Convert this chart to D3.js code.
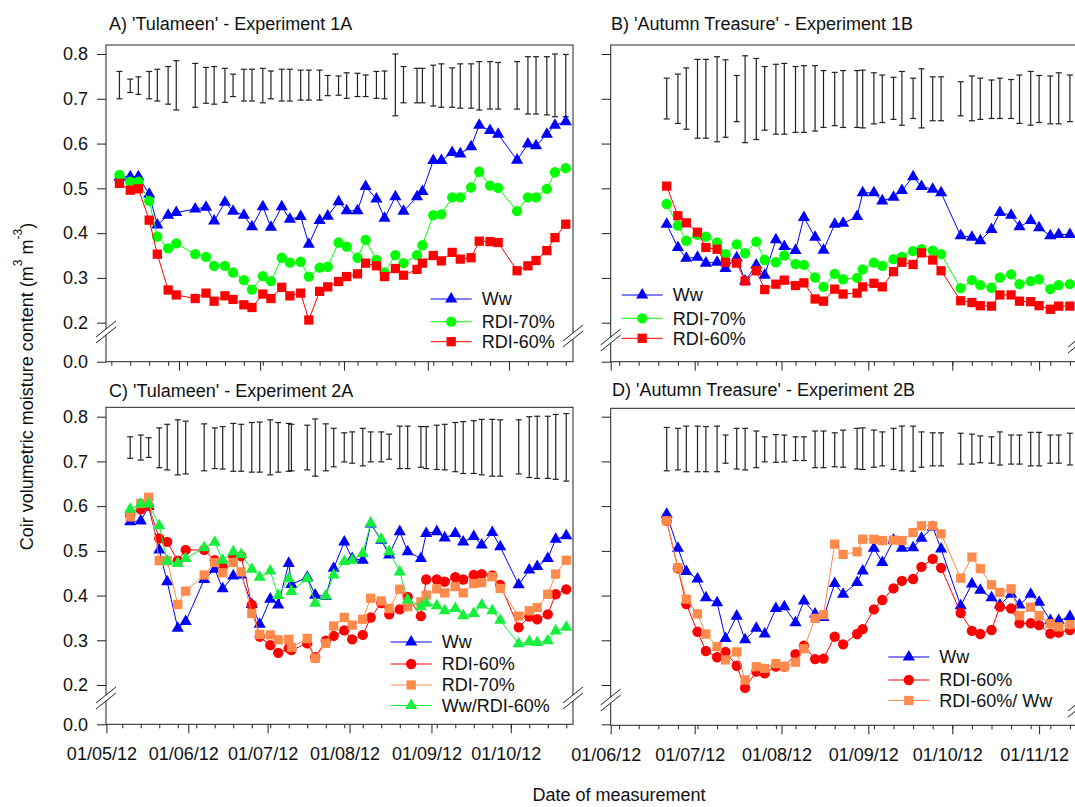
<!DOCTYPE html>
<html>
<head>
<meta charset="utf-8">
<script src="https://cdn.jsdelivr.net/npm/d3@7"></script>
<style>
  body { margin: 0; background: #fff; }
  svg { display: block; }
  text { font-family: "Liberation Sans", Arial, sans-serif; fill: #111; }
</style>
</head>
<body>
<svg id="chart" width="1075" height="807"></svg>
<script>
// Measurement dates (2012, "MM-DD")
const datesExp1A = ["05-10","05-14","05-17","05-21","05-24","05-28","05-31","06-07","06-11","06-14","06-18","06-21","06-25","06-28","07-02","07-05","07-09","07-12","07-16","07-19","07-23","07-26","07-30","08-02","08-06","08-09","08-13","08-16","08-20","08-23","08-28","08-30","09-03","09-06","09-10","09-13","09-17","09-20","09-24","09-27","10-04","10-08","10-11","10-15","10-18","10-22"];
const datesExp2A = ["05-10","05-14","05-17","05-21","05-24","05-28","05-31","06-07","06-11","06-14","06-18","06-21","06-25","06-28","07-02","07-05","07-09","07-10","07-16","07-19","07-23","07-26","07-30","08-02","08-06","08-09","08-13","08-16","08-20","08-23","08-28","08-30","09-03","09-06","09-10","09-13","09-17","09-20","09-24","09-27","10-04","10-08","10-11","10-15","10-18","10-22"];
const datesExpB = ["06-21","06-25","06-28","07-02","07-05","07-09","07-12","07-16","07-19","07-23","07-26","07-30","08-02","08-06","08-09","08-13","08-16","08-20","08-23","08-28","08-30","09-03","09-06","09-10","09-13","09-17","09-20","09-24","09-27","10-04","10-08","10-11","10-15","10-18","10-22","10-25","10-29","11-01","11-05","11-08","11-12"];

// A) Tulameen - Experiment 1A
const a_Ww     = [0.525,0.526,0.526,0.487,0.418,0.440,0.446,0.454,0.458,0.427,0.469,0.449,0.440,0.414,0.459,0.413,0.459,0.431,0.437,0.375,0.428,0.438,0.470,0.450,0.450,0.504,0.476,0.433,0.481,0.449,0.481,0.493,0.562,0.562,0.580,0.577,0.593,0.641,0.629,0.621,0.563,0.599,0.595,0.621,0.641,0.649];
const a_RDI70  = [0.530,0.515,0.515,0.472,0.392,0.366,0.377,0.353,0.347,0.327,0.327,0.312,0.295,0.274,0.304,0.293,0.345,0.334,0.336,0.303,0.323,0.325,0.379,0.370,0.345,0.385,0.340,0.312,0.351,0.333,0.351,0.373,0.440,0.442,0.480,0.480,0.502,0.537,0.506,0.501,0.449,0.480,0.480,0.499,0.536,0.545];
const a_RDI60  = [0.511,0.496,0.499,0.429,0.353,0.273,0.262,0.254,0.266,0.248,0.260,0.252,0.240,0.234,0.264,0.254,0.279,0.260,0.266,0.206,0.270,0.280,0.292,0.303,0.309,0.333,0.327,0.303,0.321,0.306,0.319,0.333,0.350,0.338,0.357,0.342,0.345,0.382,0.381,0.379,0.316,0.327,0.339,0.361,0.390,0.420];
const a_barTop = [0.761,0.744,0.749,0.761,0.766,0.772,0.785,0.779,0.770,0.772,0.768,0.755,0.766,0.766,0.768,0.762,0.766,0.766,0.764,0.764,0.764,0.752,0.751,0.758,0.757,0.753,0.761,0.762,0.800,0.772,0.768,0.768,0.775,0.778,0.769,0.778,0.778,0.783,0.783,0.781,0.783,0.794,0.794,0.794,0.800,0.799];
const a_barBot = [0.700,0.714,0.710,0.700,0.695,0.688,0.675,0.681,0.690,0.688,0.692,0.705,0.695,0.695,0.691,0.700,0.695,0.695,0.697,0.697,0.697,0.707,0.708,0.701,0.705,0.705,0.701,0.700,0.662,0.691,0.691,0.691,0.684,0.681,0.681,0.679,0.679,0.675,0.677,0.677,0.677,0.666,0.666,0.664,0.660,0.660];

// B) Autumn Treasure - Experiment 1B
const b_Ww     = [0.420,0.368,0.344,0.346,0.333,0.335,0.321,0.345,0.293,0.329,0.306,0.385,0.370,0.361,0.435,0.391,0.362,0.420,0.422,0.437,0.490,0.490,0.472,0.480,0.495,0.526,0.504,0.498,0.490,0.394,0.391,0.383,0.408,0.446,0.440,0.414,0.428,0.412,0.394,0.397,0.397];
const b_RDI70  = [0.465,0.417,0.383,0.396,0.392,0.379,0.353,0.375,0.355,0.381,0.340,0.335,0.350,0.331,0.329,0.301,0.280,0.309,0.297,0.300,0.319,0.334,0.327,0.342,0.347,0.360,0.364,0.361,0.353,0.277,0.295,0.284,0.278,0.301,0.308,0.286,0.293,0.297,0.275,0.284,0.286];
const b_RDI60  = [0.505,0.439,0.423,0.402,0.368,0.364,0.335,0.333,0.293,0.316,0.274,0.286,0.295,0.283,0.289,0.253,0.248,0.275,0.264,0.266,0.280,0.288,0.280,0.314,0.335,0.330,0.356,0.340,0.316,0.249,0.245,0.238,0.237,0.262,0.262,0.248,0.247,0.238,0.230,0.237,0.237];
const b_barTop = [0.746,0.755,0.769,0.788,0.788,0.794,0.787,0.752,0.796,0.790,0.772,0.777,0.779,0.772,0.774,0.774,0.763,0.759,0.763,0.763,0.764,0.758,0.753,0.748,0.761,0.746,0.767,0.749,0.749,0.738,0.751,0.746,0.742,0.746,0.743,0.753,0.761,0.752,0.751,0.758,0.753];
const b_barBot = [0.655,0.645,0.632,0.612,0.612,0.604,0.614,0.649,0.602,0.609,0.630,0.621,0.621,0.625,0.625,0.628,0.636,0.640,0.636,0.636,0.635,0.644,0.647,0.654,0.641,0.656,0.635,0.651,0.651,0.662,0.651,0.654,0.656,0.656,0.656,0.645,0.641,0.647,0.644,0.644,0.649];

// C) Tulameen - Experiment 2A
const c_Ww       = [0.565,0.567,0.599,0.502,0.431,0.327,0.342,0.436,0.459,0.415,0.444,0.446,0.380,0.336,0.392,0.379,0.472,0.425,0.441,0.401,0.398,0.461,0.520,0.483,0.479,0.560,0.524,0.491,0.543,0.498,0.483,0.539,0.543,0.529,0.539,0.520,0.532,0.513,0.541,0.509,0.424,0.457,0.465,0.483,0.526,0.534];
const c_RDI60    = [0.580,0.593,0.600,0.528,0.520,0.478,0.502,0.502,0.479,0.465,0.487,0.488,0.379,0.308,0.289,0.272,0.282,0.278,0.293,0.262,0.299,0.310,0.322,0.302,0.312,0.351,0.383,0.358,0.369,0.397,0.354,0.436,0.436,0.431,0.441,0.436,0.446,0.448,0.445,0.424,0.329,0.353,0.347,0.358,0.403,0.414];
const c_RDI70    = [0.576,0.606,0.620,0.478,0.478,0.380,0.410,0.446,0.474,0.451,0.474,0.453,0.360,0.313,0.312,0.301,0.302,0.284,0.304,0.260,0.293,0.332,0.351,0.334,0.347,0.394,0.388,0.371,0.414,0.375,0.386,0.401,0.415,0.406,0.420,0.406,0.427,0.429,0.442,0.416,0.354,0.366,0.373,0.403,0.448,0.479];
const c_WwRDI60  = [0.593,0.605,0.605,0.556,0.477,0.472,0.483,0.507,0.519,0.479,0.498,0.492,0.459,0.441,0.455,0.400,0.438,0.409,0.438,0.383,0.399,0.446,0.476,0.479,0.494,0.562,0.526,0.498,0.453,0.390,0.375,0.383,0.377,0.366,0.371,0.355,0.360,0.379,0.366,0.345,0.292,0.297,0.295,0.299,0.321,0.329];
const c_barTop = [0.755,0.759,0.753,0.775,0.783,0.793,0.790,0.784,0.775,0.778,0.785,0.783,0.787,0.788,0.793,0.787,0.785,0.783,0.781,0.795,0.784,0.774,0.764,0.766,0.774,0.766,0.766,0.761,0.779,0.779,0.778,0.778,0.781,0.783,0.787,0.789,0.791,0.794,0.794,0.793,0.793,0.800,0.801,0.801,0.805,0.807];
const c_barBot = [0.707,0.703,0.709,0.686,0.681,0.670,0.672,0.679,0.684,0.683,0.678,0.678,0.676,0.676,0.670,0.676,0.678,0.679,0.681,0.667,0.679,0.688,0.699,0.696,0.690,0.699,0.699,0.705,0.684,0.684,0.687,0.684,0.682,0.681,0.677,0.673,0.673,0.670,0.667,0.667,0.672,0.664,0.662,0.662,0.660,0.656];

// D) Autumn Treasure - Experiment 2B
const d_Ww       = [0.582,0.506,0.454,0.437,0.395,0.384,0.304,0.354,0.301,0.327,0.314,0.371,0.375,0.339,0.388,0.359,0.351,0.427,0.403,0.429,0.455,0.506,0.474,0.524,0.506,0.507,0.528,0.553,0.504,0.377,0.426,0.412,0.395,0.379,0.403,0.379,0.403,0.385,0.344,0.344,0.353];
const d_RDI60    = [0.567,0.461,0.381,0.319,0.276,0.262,0.274,0.243,0.185,0.230,0.226,0.241,0.241,0.269,0.288,0.258,0.259,0.308,0.291,0.314,0.325,0.369,0.390,0.416,0.433,0.437,0.464,0.482,0.462,0.361,0.321,0.314,0.323,0.375,0.371,0.338,0.338,0.334,0.315,0.317,0.323];
const d_RDI60Ww  = [0.567,0.462,0.392,0.359,0.314,0.286,0.256,0.274,0.211,0.241,0.237,0.248,0.241,0.251,0.281,0.349,0.357,0.515,0.492,0.498,0.526,0.526,0.523,0.524,0.523,0.541,0.556,0.556,0.538,0.439,0.486,0.460,0.424,0.407,0.415,0.355,0.374,0.355,0.337,0.330,0.335];
const d_barTop = [0.776,0.774,0.779,0.779,0.778,0.779,0.759,0.774,0.774,0.768,0.755,0.760,0.759,0.755,0.755,0.768,0.768,0.764,0.770,0.774,0.775,0.770,0.766,0.774,0.779,0.779,0.766,0.764,0.764,0.763,0.761,0.757,0.755,0.766,0.759,0.759,0.765,0.765,0.759,0.759,0.763];
const d_barBot = [0.679,0.681,0.677,0.677,0.677,0.677,0.696,0.683,0.681,0.686,0.699,0.698,0.699,0.702,0.702,0.686,0.686,0.688,0.687,0.683,0.682,0.687,0.690,0.682,0.679,0.678,0.687,0.690,0.690,0.694,0.694,0.697,0.696,0.692,0.694,0.694,0.690,0.690,0.696,0.696,0.692];

const yTickValues = [0, 0.2, 0.3, 0.4, 0.5, 0.6, 0.7, 0.8];

const BLUE = "#0000ff", GREEN = "#00ff00", GREEN2 = "#14f03c", RED = "#ff0000", ORANGE = "#ff8a4c";

const svg = d3.select("#chart");
const parse = s => new Date(2012, +s.slice(0, 2) - 1, +s.slice(3, 5));

// scales (broken y axis: 0 .. 0.2 compressed)
const yTop = d3.scaleLinear().domain([0, 0.2, 0.8]).range([361.7, 322.7, 54]);
const yBot = d3.scaleLinear().domain([0, 0.2, 0.8]).range([724.3, 685, 416.7]);
const xExp1A = d3.scaleTime().domain([new Date(2012, 4, 1), new Date(2012, 9, 25)]).range([95.1, 573.9]);
const xExp2A = d3.scaleTime().domain([new Date(2012, 4, 1), new Date(2012, 9, 25)]).range([106.4, 574.2]);
const xExpB  = d3.scaleTime().domain([new Date(2012, 5, 1), new Date(2012, 10, 14)]).range([610.7, 1075.5]);

const panels = [
  {
    title: "A) 'Tulameen' - Experiment 1A", tx: 109, ty: 29.5,
    x0: 106, x1: 573, y0: 45, y1: 361.7, x: xExp1A, y: yTop, dates: datesExp1A,
    yLabels: true, xLabels: false, breakL: 332, breakR: 336,
    barTop: a_barTop, barBot: a_barBot,
    series: [
      { name: "Ww", values: a_Ww, color: BLUE, shape: "tri" },
      { name: "RDI-70%", values: a_RDI70, color: GREEN, shape: "circle" },
      { name: "RDI-60%", values: a_RDI60, color: RED, shape: "square" }
    ],
    legend: { x: 430.7, rows: [299, 321.7, 341.7] }
  },
  {
    title: "B) 'Autumn Treasure' - Experiment 1B", tx: 611, ty: 29.5,
    x0: 610.7, x1: 1078, y0: 45, y1: 361.7, x: xExpB, y: yTop, dates: datesExpB,
    yLabels: false, xLabels: false, breakL: 340, breakR: 342,
    barTop: b_barTop, barBot: b_barBot,
    series: [
      { name: "Ww", values: b_Ww, color: BLUE, shape: "tri" },
      { name: "RDI-70%", values: b_RDI70, color: GREEN, shape: "circle" },
      { name: "RDI-60%", values: b_RDI60, color: RED, shape: "square" }
    ],
    legend: { x: 621.7, rows: [295, 318.3, 338.3] }
  },
  {
    title: "C) 'Tulameen' - Experiment 2A", tx: 109, ty: 397.3,
    x0: 106, x1: 573, y0: 407.3, y1: 724.3, x: xExp2A, y: yBot, dates: datesExp2A,
    yLabels: true, xLabels: true, breakL: 698, breakR: 698,
    barTop: c_barTop, barBot: c_barBot,
    series: [
      { name: "Ww", values: c_Ww, color: BLUE, shape: "tri" },
      { name: "RDI-60%", values: c_RDI60, color: RED, shape: "circle" },
      { name: "RDI-70%", values: c_RDI70, color: ORANGE, shape: "square" },
      { name: "Ww/RDI-60%", values: c_WwRDI60, color: GREEN2, shape: "tri" }
    ],
    legend: { x: 390.7, rows: [642, 664, 685, 705.5] }
  },
  {
    title: "D) 'Autumn Treasure' - Experiment 2B", tx: 612, ty: 395.5,
    x0: 610.7, x1: 1078, y0: 408.3, y1: 725.3, x: xExpB, y: yBot, dates: datesExpB,
    yLabels: false, xLabels: true, breakL: 700, breakR: 706,
    barTop: d_barTop, barBot: d_barBot,
    series: [
      { name: "Ww", values: d_Ww, color: BLUE, shape: "tri" },
      { name: "RDI-60%", values: d_RDI60, color: RED, shape: "circle" },
      { name: "RDI-60%/ Ww", values: d_RDI60Ww, color: ORANGE, shape: "square" }
    ],
    legend: { x: 888.3, rows: [657, 680, 700.5] }
  }
];

function symbolPath(shape) {
  if (shape === "tri") return d3.symbol(d3.symbolTriangle, 64)();
  if (shape === "circle") return d3.symbol(d3.symbolCircle, 84)();
  return d3.symbol(d3.symbolSquare, 86)();
}

function breakMark(g, x, y) {
  g.append("polygon")
    .attr("points", `${x - 10},${y + 5} ${x + 10},${y - 11} ${x + 10},${y - 5} ${x - 10},${y + 11}`)
    .attr("fill", "#fff");
  [[5, -11], [11, -5]].forEach(([a, b]) => {
    g.append("line")
      .attr("x1", x - 10).attr("y1", y + a)
      .attr("x2", x + 10).attr("y2", y + b)
      .attr("stroke", "#222").attr("stroke-width", 1);
  });
}

function drawPanel(p) {
  const g = svg.append("g");
  const inFrame = d => { const v = p.x(d); return v >= p.x0 - 0.5 && v <= p.x1 + 0.5; };

  // title
  g.append("text").attr("x", p.tx).attr("y", p.ty).style("font-size", "18px").text(p.title);

  // frame
  g.append("rect")
    .attr("x", p.x0).attr("y", p.y0)
    .attr("width", p.x1 - p.x0).attr("height", p.y1 - p.y0)
    .attr("fill", "none").attr("stroke", "#222").attr("stroke-width", 1);

  // y axis
  const yAxis = d3.axisLeft(p.y).tickValues(yTickValues).tickSize(9).tickPadding(9)
    .tickFormat(p.yLabels ? d3.format(".1f") : "");
  g.append("g").attr("transform", `translate(${p.x0},0)`)
    .attr("color", "#222").style("font-size", "18px")
    .call(yAxis).call(s => s.select(".domain").remove());

  // x axis: weekly minor ticks, monthly major ticks
  const dom = p.x.domain();
  const minors = d3.timeMonday.range(dom[0], dom[1]).filter(inFrame);
  const majors = d3.timeMonth.range(dom[0], dom[1]).filter(inFrame);
  g.append("g").attr("transform", `translate(0,${p.y1})`).attr("color", "#222")
    .call(d3.axisBottom(p.x).tickValues(minors).tickSize(4).tickFormat(""))
    .call(s => s.select(".domain").remove());
  const ax = g.append("g").attr("transform", `translate(0,${p.y1})`)
    .attr("color", "#222").style("font-size", "18px")
    .call(d3.axisBottom(p.x).tickValues(majors).tickSize(9).tickPadding(13.5)
      .tickFormat(p.xLabels ? d3.timeFormat("%d/%m/%y") : ""))
    .call(s => s.select(".domain").remove());
  ax.selectAll("text").attr("dx", -5);

  // axis breaks
  breakMark(g, p.x0, p.breakL);
  breakMark(g, p.x1, p.breakR);

  const dates = p.dates.map(parse);

  // error bars
  const bars = g.append("g").attr("stroke", "#222").attr("stroke-width", 1.2);
  dates.forEach((d, i) => {
    const x = p.x(d), yt = p.y(p.barTop[i]), yb = p.y(p.barBot[i]);
    bars.append("line").attr("x1", x).attr("x2", x).attr("y1", yt).attr("y2", yb);
    bars.append("line").attr("x1", x - 3).attr("x2", x + 3).attr("y1", yt).attr("y2", yt);
    bars.append("line").attr("x1", x - 3).attr("x2", x + 3).attr("y1", yb).attr("y2", yb);
  });

  // series
  p.series.forEach(s => {
    const pts = dates.map((d, i) => [p.x(d), p.y(s.values[i])]);
    g.append("path").attr("d", d3.line()(pts))
      .attr("fill", "none").attr("stroke", s.color).attr("stroke-width", 1);
    g.append("g").selectAll("path").data(pts).join("path")
      .attr("transform", d => `translate(${d[0]},${d[1]})`)
      .attr("d", symbolPath(s.shape))
      .attr("fill", s.color);
  });

  // legend
  const lg = g.append("g");
  p.series.forEach((s, i) => {
    const y = p.legend.rows[i], x = p.legend.x;
    lg.append("line").attr("x1", x).attr("x2", x + 41).attr("y1", y).attr("y2", y)
      .attr("stroke", s.color).attr("stroke-width", 1);
    lg.append("path").attr("transform", `translate(${x + 20.5},${y})`)
      .attr("d", symbolPath(s.shape)).attr("fill", s.color);
    lg.append("text").attr("x", x + 51).attr("y", y).attr("dy", "0.35em")
      .style("font-size", "18px").text(s.name);
  });
}

panels.forEach(drawPanel);

// shared axis titles
const ylab = svg.append("text")
  .attr("transform", "translate(32.5,386.5) rotate(-90)")
  .attr("text-anchor", "middle").style("font-size", "18px");
ylab.append("tspan").text("Coir volumetric moisture content (m");
ylab.append("tspan").attr("dy", -11).style("font-size", "12px").text("3");
ylab.append("tspan").attr("dy", 11).text(" m");
ylab.append("tspan").attr("dy", -11).style("font-size", "12px").text("-3");
ylab.append("tspan").attr("dy", 11).text(")");

svg.append("text").attr("x", 619).attr("y", 801).attr("text-anchor", "middle")
  .style("font-size", "18px").text("Date of measurement");
</script>
</body>
</html>
